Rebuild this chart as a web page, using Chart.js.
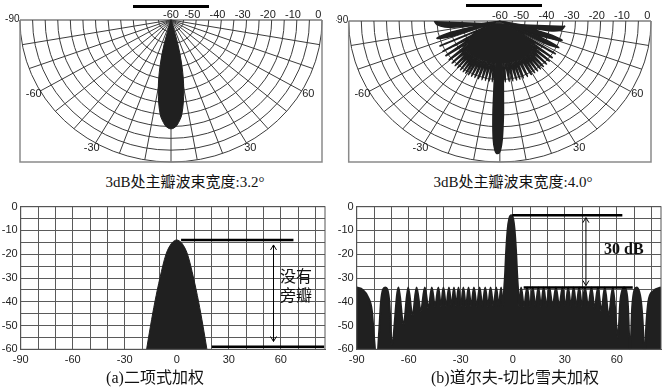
<!DOCTYPE html>
<html>
<head>
<meta charset="utf-8">
<script src="https://cdn.jsdelivr.net/npm/chart.js@4.4.0/dist/chart.umd.min.js"></script>
<style>
body { margin: 0; background: #fff; width: 672px; height: 388px; position: relative; overflow: hidden; }
canvas { position: absolute; }
.bar { position: absolute; height: 3px; background: #000; }
.caption { position: absolute; transform: translateX(-50%); white-space: nowrap; line-height: 1;
           font-family: "Liberation Serif", "Noto Sans CJK SC", serif; color: #111; }
.note { position: absolute; line-height: 1; white-space: nowrap; color: #111; }
</style>
</head>
<body>
<div class="bar" style="left:133px; top:4.5px; width:76px"></div>
<div class="bar" style="left:466px; top:3.5px; width:76px"></div>

<canvas id="polarA" width="336" height="172" style="left:0; top:0"></canvas>
<canvas id="polarB" width="336" height="172" style="left:336px; top:0"></canvas>
<canvas id="cartA" width="336" height="175" style="left:0; top:195px"></canvas>
<canvas id="cartB" width="336" height="175" style="left:336px; top:195px"></canvas>

<div class="caption" style="left:185px; top:175px; font-size:15px">3dB处主瓣波束宽度:3.2°</div>
<div class="caption" style="left:513px; top:175px; font-size:15px">3dB处主瓣波束宽度:4.0°</div>
<div class="caption" style="left:155px; top:370px; font-size:16px">(a)二项式加权</div>
<div class="caption" style="left:515px; top:370px; font-size:16px">(b)道尔夫-切比雪夫加权</div>

<div class="note" style="left:280px; top:263px; font:16px 'Noto Sans CJK SC'">没有</div>
<div class="note" style="left:280px; top:282px; font:16px 'Noto Sans CJK SC'">旁瓣</div>
<div class="note" style="left:604px; top:240px; font:bold 16px 'Liberation Serif'">30 dB</div>

<script>
// ---- Data (angle in degrees, level in dB) ----

// (a) binomial weighting, single main lobe
const binomAngles = [-17.4, -15.1, -12.6, -9.7, -6.2, -3.2, -1.5, 0, 1.5, 3.2, 6.2, 9.7, 12.6, 15.1, 17.4];
const binomDb     = [-60, -50, -40, -30, -20, -15.6, -14.4, -14, -14.4, -15.6, -20, -30, -40, -50, -60];

// (b) Dolph-Chebyshev weighting, main lobe plus equal-level sidelobes
const chebAngles = [
  -90, -86.5, -83.5, -81.2, -79.9, -78.5, -77, -76, -73.6, -71.3, -69.7,
  -65.9, -63, -60.3, -57.8, -55.5, -53, -50.7, -48.6, -46.7, -44.8, -42.9, -41.4,
  -40, -38.4, -36.8, -35.3, -33.9, -32.6, -31.3, -29.9, -28.5, -27, -25.5, -24,
  -22.4, -20.7, -19.1, -17.5, -15.9, -14.3, -12.8, -11.1, -9.5, -8.1, -6.7, -5.8,
  -4.9, -4.4, -3.9, -3, -2, -0.9, 0.2, 1.1, 2, 2.5, 3,
  3.7, 4.8, 6.5, 8.3, 9.9, 11.5, 13.1, 14.8, 16.3, 17.8, 19.4, 21.1, 23, 24.9,
  26.8, 28.7, 30.3, 32, 33.5, 35.1, 36.7, 38.3, 40, 41.6, 43.5, 45.4, 47.2, 49.1,
  51.1, 53.1, 55.3, 57.7, 60.7, 62, 64.2, 66.3, 67.7, 68.9, 71.5, 74, 75.2, 75.9,
  77, 78.2, 81, 85.5
];
const chebDb = [
  -34, -35, -38, -44, -56, -66, -52, -40, -34, -39, -58,
  -34, -50, -34, -46, -34, -44, -34, -43, -34, -42, -34, -42,
  -34, -42, -34, -42, -34, -42, -34, -42, -34, -42, -34, -42,
  -34, -42, -34, -42, -34, -42, -34, -42, -34, -42, -34, -42,
  -34, -28, -20, -10, -5, -3.6, -5, -10, -20, -28, -34,
  -42, -34, -42, -34, -42, -34, -42, -34, -42, -34, -42, -34, -42, -34,
  -42, -34, -42, -34, -42, -34, -42, -34, -42, -34, -42, -34, -43, -34,
  -44, -34, -46, -34, -55, -40, -34, -40, -62, -42, -34, -40, -52, -66,
  -50, -40, -35.5, -34
];

// axes
const xTickLabels = [-90, -60, -30, 0, 30, 60];
const yTickLabels = [0, -10, -20, -30, -40, -50, -60];
const polarRingsDb = [-55, -50, -45, -40, -35, -30, -25, -20, -15, -10, -5, 0];
const polarSpokesDeg = [-90, -80, -70, -60, -50, -40, -30, -20, -10, 0, 10, 20, 30, 40, 50, 60, 70, 80, 90];
const polarDbLabels = [-60, -50, -40, -30, -20, -10, 0];
const polarAngleLabels = [-60, -30, 30, 60];

const POLAR_FLOOR = -60;
const LOBE_COLOR = '#202020';
const LABEL_FONT = '11px "Liberation Sans", Arial, sans-serif';

// ---- Helpers ----
function toRad(deg) { return deg * Math.PI / 180; }

function toPolarPoints(angles, dbs) {
  return angles.map((a, i) => {
    const r = Math.max(0, dbs[i] - POLAR_FLOOR);
    return { x: r * Math.sin(toRad(a)), y: -r * Math.cos(toRad(a)) };
  });
}

function toXY(angles, dbs) {
  return angles.map((a, i) => ({ x: a, y: dbs[i] }));
}

// half-circle grid, frame and labels for the top plots
const polarGrid = {
  id: 'polarGrid',
  beforeDatasetsDraw(chart) {
    const { ctx, chartArea: area, scales: { x, y } } = chart;
    const cx = x.getPixelForValue(0);
    const cy = y.getPixelForValue(0);
    const R = -POLAR_FLOOR;
    ctx.save();
    ctx.strokeStyle = '#3c3c3c';
    ctx.lineWidth = 1;
    polarRingsDb.forEach(db => {
      const r = db - POLAR_FLOOR;
      const rx = x.getPixelForValue(r) - cx;
      const ry = y.getPixelForValue(-r) - cy;
      ctx.beginPath();
      ctx.ellipse(cx, cy, rx, ry, 0, 0, Math.PI);
      ctx.stroke();
    });
    polarSpokesDeg.forEach(a => {
      ctx.beginPath();
      ctx.moveTo(cx, cy);
      ctx.lineTo(x.getPixelForValue(R * Math.sin(toRad(a))), y.getPixelForValue(-R * Math.cos(toRad(a))));
      ctx.stroke();
    });
    // outer frame
    ctx.strokeStyle = '#8a8a8a';
    ctx.lineWidth = 1.5;
    ctx.beginPath();
    ctx.moveTo(area.left, area.top);
    ctx.lineTo(area.left, area.bottom);
    ctx.lineTo(area.right, area.bottom);
    ctx.lineTo(area.right, area.top);
    ctx.stroke();
    // labels
    ctx.fillStyle = '#222';
    ctx.font = LABEL_FONT;
    ctx.textAlign = 'center';
    ctx.textBaseline = 'middle';
    polarDbLabels.forEach(db => {
      const off = db === POLAR_FLOOR ? 0 : -3.8;
      ctx.fillText(String(db), x.getPixelForValue(db - POLAR_FLOOR) + off, cy - 5);
    });
    polarAngleLabels.forEach(a => {
      const rl = R * 1.05;
      ctx.fillText(String(a), x.getPixelForValue(rl * Math.sin(toRad(a))), y.getPixelForValue(-rl * Math.cos(toRad(a))) - 1);
    });
    // -90 sits in the corner, left of the frame
    ctx.font = '10px "Liberation Sans", Arial, sans-serif';
    ctx.textAlign = 'right';
    ctx.fillText('-90', area.left - 0.5, cy - 1);
    ctx.restore();
  }
};

// fills the closed lobe outline using the points placed by the scales
const polarFill = {
  id: 'polarFill',
  afterDatasetDraw(chart, args) {
    const meta = args.meta;
    if (!meta.data.length) return;
    const ctx = chart.ctx;
    ctx.save();
    ctx.beginPath();
    meta.dataset.path(ctx);
    ctx.closePath();
    ctx.fillStyle = chart.data.datasets[args.index].backgroundColor;
    ctx.fill();
    ctx.restore();
  }
};

// frame around plot area + reference lines and arrow
const annotate = {
  id: 'annotate',
  afterDatasetsDraw(chart, args, opts) {
    const { ctx, chartArea: area, scales: { x, y } } = chart;
    ctx.save();
    ctx.strokeStyle = '#555';
    ctx.lineWidth = 1;
    ctx.strokeRect(area.left, area.top, area.right - area.left, area.bottom - area.top);
    ctx.strokeStyle = '#000';
    ctx.lineWidth = 2.6;
    (opts.lines || []).forEach(l => {
      ctx.beginPath();
      ctx.moveTo(x.getPixelForValue(l.from), y.getPixelForValue(l.db));
      ctx.lineTo(x.getPixelForValue(l.to), y.getPixelForValue(l.db));
      ctx.stroke();
    });
    if (opts.arrow) {
      const ax = x.getPixelForValue(opts.arrow.at);
      const y1 = y.getPixelForValue(opts.arrow.top);
      const y2 = y.getPixelForValue(opts.arrow.bottom);
      ctx.lineWidth = 1;
      ctx.beginPath();
      ctx.moveTo(ax, y1);
      ctx.lineTo(ax, y2);
      ctx.moveTo(ax - 3, y1 + 5); ctx.lineTo(ax, y1); ctx.lineTo(ax + 3, y1 + 5);
      ctx.moveTo(ax - 3, y2 - 5); ctx.lineTo(ax, y2); ctx.lineTo(ax + 3, y2 - 5);
      ctx.stroke();
    }
    ctx.restore();
  }
};

// ---- Charts ----
function makePolarChart(id, angles, dbs, padding, lineWidth) {
  new Chart(document.getElementById(id), {
    type: 'scatter',
    data: {
      datasets: [{
        data: toPolarPoints(angles, dbs),
        showLine: true,
        borderColor: LOBE_COLOR,
        backgroundColor: LOBE_COLOR,
        borderWidth: lineWidth,
        pointRadius: 0,
        tension: 0.35,
        fill: false
      }]
    },
    options: {
      responsive: false,
      animation: false,
      events: [],
      layout: { padding: padding },
      plugins: { legend: { display: false }, tooltip: { enabled: false } },
      scales: {
        x: { type: 'linear', min: POLAR_FLOOR, max: -POLAR_FLOOR, display: false },
        y: { type: 'linear', min: POLAR_FLOOR, max: 0, display: false }
      }
    },
    plugins: [polarGrid, polarFill]
  });
}

function makeCartChart(id, angles, dbs, lineWidth, notes) {
  new Chart(document.getElementById(id), {
    type: 'line',
    data: {
      datasets: [{
        data: toXY(angles, dbs),
        borderColor: LOBE_COLOR,
        backgroundColor: LOBE_COLOR,
        borderWidth: lineWidth,
        pointRadius: 0,
        cubicInterpolationMode: 'monotone',
        fill: 'start'
      }]
    },
    options: {
      responsive: false,
      animation: false,
      events: [],
      layout: { padding: { left: 0, top: 11.7, right: 11, bottom: 0 } },
      plugins: { legend: { display: false }, tooltip: { enabled: false }, annotate: notes },
      scales: {
        x: {
          type: 'linear', min: -90, max: 85.5,
          afterFit: s => { s.height = 20.7; },
          border: { color: '#555' },
          grid: { color: '#5a5a5a', drawTicks: false },
          ticks: {
            stepSize: 10, includeBounds: false, autoSkip: false, maxRotation: 0, padding: 4,
            color: '#222', font: { family: '"Liberation Sans", Arial, sans-serif', size: 11 },
            callback: v => (xTickLabels.includes(v) ? String(v) : '')
          }
        },
        y: {
          type: 'linear', min: -60, max: 0,
          afterFit: s => { s.width = 20.7; },
          border: { color: '#555' },
          grid: { color: '#5a5a5a', drawTicks: false },
          ticks: {
            stepSize: 5, autoSkip: false, padding: 3,
            color: '#222', font: { family: '"Liberation Sans", Arial, sans-serif', size: 11 },
            callback: v => (yTickLabels.includes(v) ? String(v) : '')
          }
        }
      }
    },
    plugins: [annotate]
  });
}

makePolarChart('polarA', binomAngles, binomDb, { left: 20, right: 14, top: 20, bottom: 10 }, 1);
makePolarChart('polarB', chebAngles, chebDb, { left: 12.7, right: 21, top: 21, bottom: 10 }, 1.6);

makeCartChart('cartA', binomAngles, binomDb, 1, {
  lines: [{ from: 2.5, to: 67.3, db: -14 }, { from: 20.2, to: 85, db: -58.9 }],
  arrow: { at: 55.8, top: -16.1, bottom: -56.7 }
});
makeCartChart('cartB', chebAngles, chebDb, 2, {
  lines: [{ from: -0.3, to: 63.2, db: -3.6 }, { from: 6.3, to: 69.2, db: -34 }],
  arrow: { at: 42.2, top: -4.6, bottom: -33.2 }
});
</script>
</body>
</html>
